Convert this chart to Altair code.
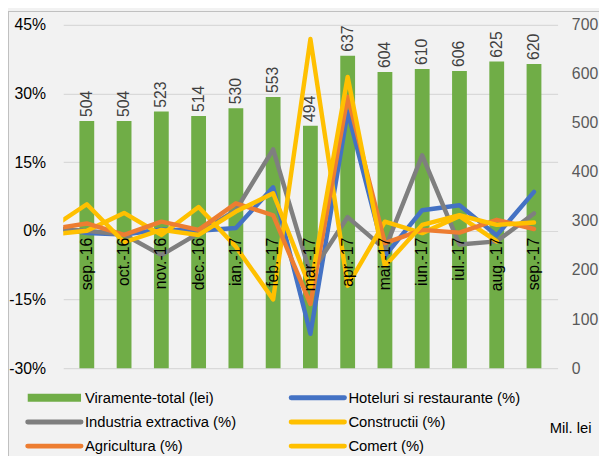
import altair as alt
import pandas as pd

# ---------------- data ----------------
months = ["sep.-16", "oct.-16", "nov.-16", "dec.-16", "ian.-17", "feb.-17", "mar.-17",
          "apr.-17", "mai.-17", "iun.-17", "iul.-17", "aug.-17", "sep.-17"]
viramente = [504, 504, 523, 514, 530, 553, 494, 637, 604, 610, 606, 625, 620]

# line series: first value is the (clipped) point before sep.-16
hoteluri = [0.9, -0.5, -0.8, 0.3, 0.0, 0.6, 9.5, -22.5, 26.0, -5.5, 4.5, 5.6, -1.0, 8.5]
industria = [0.5, 0.0, -0.8, -5.3, -0.5, 4.5, 17.8, -9.5, 3.0, -4.0, 16.5, -3.0, -2.3, 3.8]
constructii = [-0.8, 0.0, 3.9, -0.9, 5.2, -3.5, -15.0, 41.9, -12.0, 2.0, -0.5, 3.2, -2.3, None]
agricultura = [0.3, 1.6, -0.9, 2.0, 0.2, 6.0, 3.4, -16.0, 29.3, -2.7, 0.2, -0.4, 2.4, 0.4]
comert = [0.4, 5.8, -2.5, 0.2, -0.9, 4.2, 8.2, -12.5, 33.6, -7.7, 1.3, 3.4, 1.3, 1.8]

series_names = ["Viramente-total (lei)", "Hoteluri si restaurante (%)", "Industria extractiva (%)",
                "Constructii (%)", "Agricultura (%)", "Comert (%)"]
series_colors = ["#70AD47", "#4472C4", "#7F7F7F", "#FFC000", "#ED7D31", "#FFC000"]

pct_ticks = [-30, -15, 0, 15, 30, 45]
lei_ticks = [0, 100, 200, 300, 400, 500, 600, 700]

# ---------------- tables ----------------
bars_df = pd.DataFrame({"idx": list(range(len(months))), "month": months,
                        "value": viramente, "series": series_names[0]})
line_values = [hoteluri, industria, constructii, agricultura, comert]
line_rows = []
for name, vals in zip(series_names[1:], line_values):
    for i, v in enumerate(vals):
        line_rows.append({"idx": i - 1, "series": name, "pct": v})
lines_df = pd.DataFrame(line_rows)
months_df = pd.DataFrame({"idx": list(range(len(months))), "month": months, "zero": 0})

FONT = "Liberation Sans, Arial, sans-serif"

W, H = 501, 348

x_enc = alt.X("idx:Q", scale=alt.Scale(domain=[-0.5, 12.5], nice=False, zero=False), axis=None)
color_enc = alt.Color("series:N", scale=alt.Scale(domain=series_names, range=series_colors),
                      legend=None)

lei_axis = alt.Axis(orient="right", values=lei_ticks, grid=False, domain=False, ticks=False,
                    labelFont=FONT, labelFontSize=16, labelColor="#595959",
                    labelPadding=14, title=None)
lei_y = alt.Y("value:Q", scale=alt.Scale(domain=[0, 700], nice=False), axis=lei_axis)

pct_axis = alt.Axis(orient="left", values=pct_ticks, labelExpr="datum.value + '%'",
                    grid=True, gridColor="#D9D9D9", gridWidth=1.2, domain=False, ticks=False,
                    labelFont=FONT, labelFontSize=16, labelColor="#000000",
                    labelPadding=18, title=None)

bars = alt.Chart(bars_df).mark_bar(size=15).encode(x=x_enc, y=lei_y, color=color_enc)
bar_labels = alt.Chart(bars_df).mark_text(
    angle=270, align="left", baseline="middle", dx=4, font=FONT, fontSize=16,
    color="#404040").encode(x=x_enc, y=lei_y, text=alt.Text("value:Q"))
lei_layer = alt.layer(bars, bar_labels)

line_layers = []
for name in series_names[1:]:
    line_layers.append(
        alt.Chart(lines_df).transform_filter(alt.datum.series == name).mark_line(
            strokeWidth=4.5, strokeCap="round", strokeJoin="round", clip=True
        ).encode(
            x=x_enc,
            y=alt.Y("pct:Q", scale=alt.Scale(domain=[-30, 45], nice=False), axis=pct_axis),
            color=color_enc,
            order=alt.Order("idx:Q"),
        )
    )
month_labels = alt.Chart(months_df).mark_text(
    angle=270, align="right", baseline="middle", dx=-7, font=FONT, fontSize=16,
    color="#000000").encode(
    x=x_enc,
    y=alt.Y("zero:Q", scale=alt.Scale(domain=[-30, 45], nice=False), axis=pct_axis),
    text="month:N")
pct_layer = alt.layer(*line_layers, month_labels)

# ---------------- legend (two columns, three rows) ----------------
one = pd.DataFrame({"k": [0]})
LEG_X0, LEG_COL_W, LEG_Y0, LEG_ROW_H, SYM_LEN = -36, 267, 378, 24.5, 54
legend_layers = []
for k, (name, col) in enumerate(zip(series_names, series_colors)):
    r, c = divmod(k, 2)
    x0 = LEG_X0 + c * LEG_COL_W
    y0 = LEG_Y0 + r * LEG_ROW_H
    is_bar = k == 0
    legend_layers.append(
        alt.Chart(one).mark_rule(color=col, strokeWidth=8 if is_bar else 5,
                                 strokeCap="butt" if is_bar else "round").encode(
            x=alt.value(x0), x2=alt.value(x0 + SYM_LEN), y=alt.value(y0)))
    legend_layers.append(
        alt.Chart(one).mark_text(align="left", baseline="middle", font=FONT, fontSize=15,
                                 color="#000000").encode(
            x=alt.value(x0 + SYM_LEN + 4), y=alt.value(y0), text=alt.value(name)))

note = alt.Chart(one).mark_text(align="left", baseline="middle", font=FONT,
                                fontSize=15, color="#000000").encode(
    x=alt.value(493), y=alt.value(409), text=alt.value("Mil. lei"))
border_left = alt.Chart(one).mark_rule(color="#BFBFBF", strokeWidth=1).encode(
    x=alt.value(-55.5), y=alt.value(-14), y2=alt.value(H + 90))
border_top = alt.Chart(one).mark_rule(color="#BFBFBF", strokeWidth=1).encode(
    x=alt.value(-56), x2=alt.value(W + 50), y=alt.value(-13.5))

chart = alt.layer(lei_layer, pct_layer, *legend_layers, note, border_left, border_top).resolve_scale(
    y="independent"
).properties(
    width=W, height=H,
    autosize=alt.AutoSizeParams(type="none"),
    padding={"left": 56, "top": 14, "right": 42, "bottom": 86},
    background="#F2F2F2",
).configure_view(stroke=None)

chart.save("out.html", embed_options={"renderer": "svg", "actions": False})
